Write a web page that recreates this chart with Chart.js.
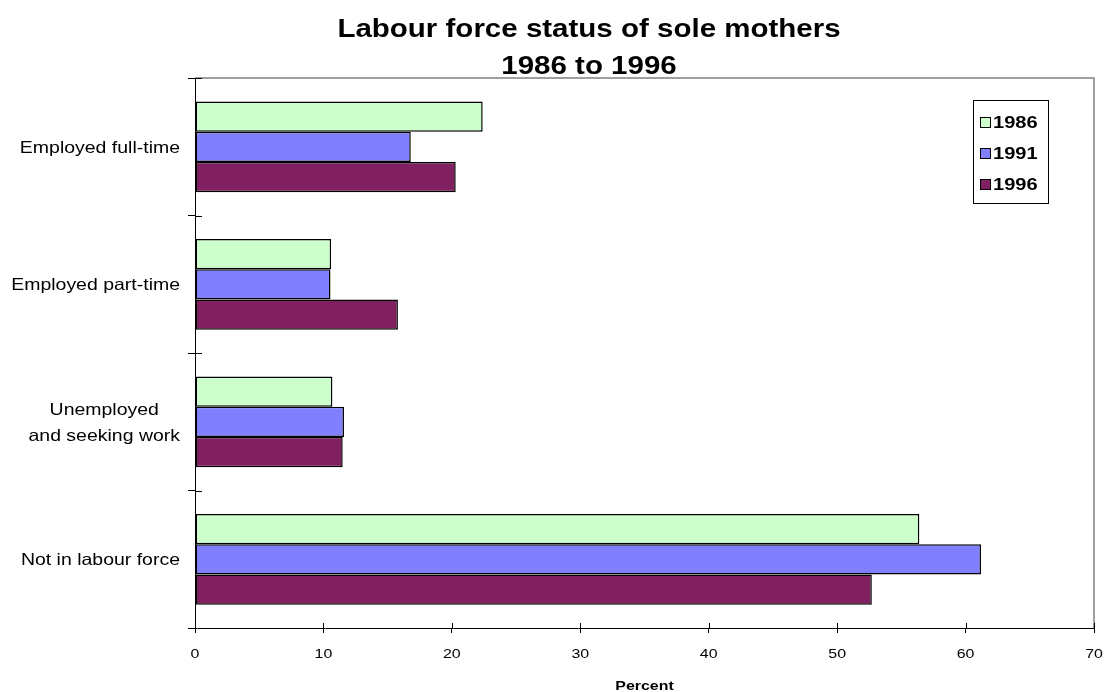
<!DOCTYPE html>
<html>
<head>
<meta charset="utf-8">
<script src="https://cdn.jsdelivr.net/npm/chart.js@4.4.1/dist/chart.umd.min.js"></script>
<style>
  body { margin: 0; background: #fff; }
  canvas { display: block; }
</style>
</head>
<body>
<canvas id="myChart" width="1106" height="692"></canvas>
<script>
// data
var categories = ['Employed full-time', 'Employed part-time', ['Unemployed', 'and seeking work'], 'Not in labour force'];
var years = ['1986', '1991', '1996'];
var v1986 = [22.4, 10.6, 10.7, 56.4];
var v1991 = [16.8, 10.55, 11.6, 61.2];
var v1996 = [20.3, 15.8, 11.5, 52.7];
var xTicks = [0, 10, 20, 30, 40, 50, 60, 70];
var colors = ['#ccffcc', '#8080ff', '#802060'];

var SX = 1.18; // text in the picture is a bit wider than normal

function txt(ctx, s, x, y, font, align) {
    ctx.save();
    ctx.font = font;
    ctx.fillStyle = '#000';
    ctx.textBaseline = 'alphabetic';
    ctx.translate(x, y);
    ctx.scale(SX, 1);
    ctx.textAlign = align;
    ctx.fillText(s, 0, 0);
    ctx.restore();
}

var extras = {
    id: 'extras',
    afterDraw: function (chart) {
        var ctx = chart.ctx;
        var a = chart.chartArea;
        var xs = chart.scales.x, ys = chart.scales.y;

        // grey plot border top / right
        ctx.save();
        ctx.strokeStyle = '#808080';
        ctx.lineWidth = 1.5;
        ctx.beginPath();
        ctx.moveTo(a.left, a.top);
        ctx.lineTo(a.right, a.top);
        ctx.lineTo(a.right, a.bottom);
        ctx.stroke();

        // inner half of the tick marks
        ctx.strokeStyle = '#000';
        ctx.lineWidth = 1;
        ctx.beginPath();
        xTicks.forEach(function (t) {
            var px = Math.round(xs.getPixelForValue(t)) + 0.5;
            ctx.moveTo(px, a.bottom);
            ctx.lineTo(px, a.bottom - 5);
        });
        for (var i = 0; i <= categories.length; i++) {
            var py = Math.round(ys.getPixelForValue(i - 0.5)) + 0.5;
            ctx.moveTo(a.left, py);
            ctx.lineTo(a.left + 7, py);
        }
        ctx.stroke();
        ctx.restore();

        // title
        txt(ctx, 'Labour force status of sole mothers', 589, 37, 'bold 25px "Liberation Sans", Arial', 'center');
        txt(ctx, '1986 to 1996', 589, 74, 'bold 25px "Liberation Sans", Arial', 'center');

        // category labels
        var f16 = '16.5px "Liberation Sans", Arial';
        categories.forEach(function (c, i) {
            var cy = ys.getPixelForValue(i);
            if (Array.isArray(c)) {
                ctx.font = f16;
                var w = 0;
                c.forEach(function (l) { w = Math.max(w, ctx.measureText(l).width * SX); });
                var cx = 180 - w / 2;
                var lh = 26;
                c.forEach(function (l, j) {
                    txt(ctx, l, cx, cy + 6 + (j - (c.length - 1) / 2) * lh, f16, 'center');
                });
            } else {
                txt(ctx, c, 180, cy + 6, f16, 'right');
            }
        });

        // x tick labels + axis title
        xTicks.forEach(function (t) {
            txt(ctx, String(t), xs.getPixelForValue(t), 658, '13.5px "Liberation Sans", Arial', 'center');
        });
        txt(ctx, 'Percent', (a.left + a.right) / 2, 690, 'bold 13.5px "Liberation Sans", Arial', 'center');

        // legend
        var lx = 973, ly = 100, lw = 75, lh2 = 103;
        ctx.save();
        ctx.fillStyle = '#fff';
        ctx.fillRect(lx, ly, lw, lh2);
        ctx.strokeStyle = '#000';
        ctx.lineWidth = 1;
        ctx.strokeRect(lx + 0.5, ly + 0.5, lw, lh2);
        var rows = [122, 153, 184];
        years.forEach(function (y, i) {
            ctx.fillStyle = colors[i];
            ctx.fillRect(980, rows[i] - 5, 10, 10);
            ctx.strokeStyle = '#000';
            ctx.strokeRect(980.5, rows[i] - 4.5, 10, 10);
            txt(ctx, y, 993, rows[i] + 6, 'bold 17px "Liberation Sans", Arial', 'left');
        });
        ctx.restore();
    }
};

var ctx = document.getElementById('myChart').getContext('2d');
var myChart = new Chart(ctx, {
    type: 'bar',
    data: {
        labels: categories,
        datasets: [
            { label: years[0], data: v1986, backgroundColor: colors[0] },
            { label: years[1], data: v1991, backgroundColor: colors[1] },
            { label: years[2], data: v1996, backgroundColor: colors[2] }
        ]
    },
    options: {
        responsive: false,
        devicePixelRatio: 1,
        animation: false,
        indexAxis: 'y',
        layout: { padding: { top: 78, right: 12, left: 0, bottom: 0 } },
        datasets: {
            bar: {
                borderColor: '#000',
                borderWidth: 1.5,
                borderSkipped: false,
                barPercentage: 1,
                categoryPercentage: 0.66
            }
        },
        plugins: {
            legend: { display: false },
            title: { display: false },
            tooltip: { enabled: false }
        },
        scales: {
            x: {
                min: 0,
                max: 70,
                ticks: { stepSize: 10, display: false },
                grid: { drawOnChartArea: false, tickLength: 5, color: '#000' },
                border: { color: '#000', width: 1 },
                afterFit: function (s) { s.height = 64; }
            },
            y: {
                ticks: { display: false },
                grid: { offset: true, drawOnChartArea: false, tickLength: 7, color: '#000' },
                border: { color: '#000', width: 1 },
                afterFit: function (s) { s.width = 195; }
            }
        }
    },
    plugins: [extras]
});
</script>
</body>
</html>
